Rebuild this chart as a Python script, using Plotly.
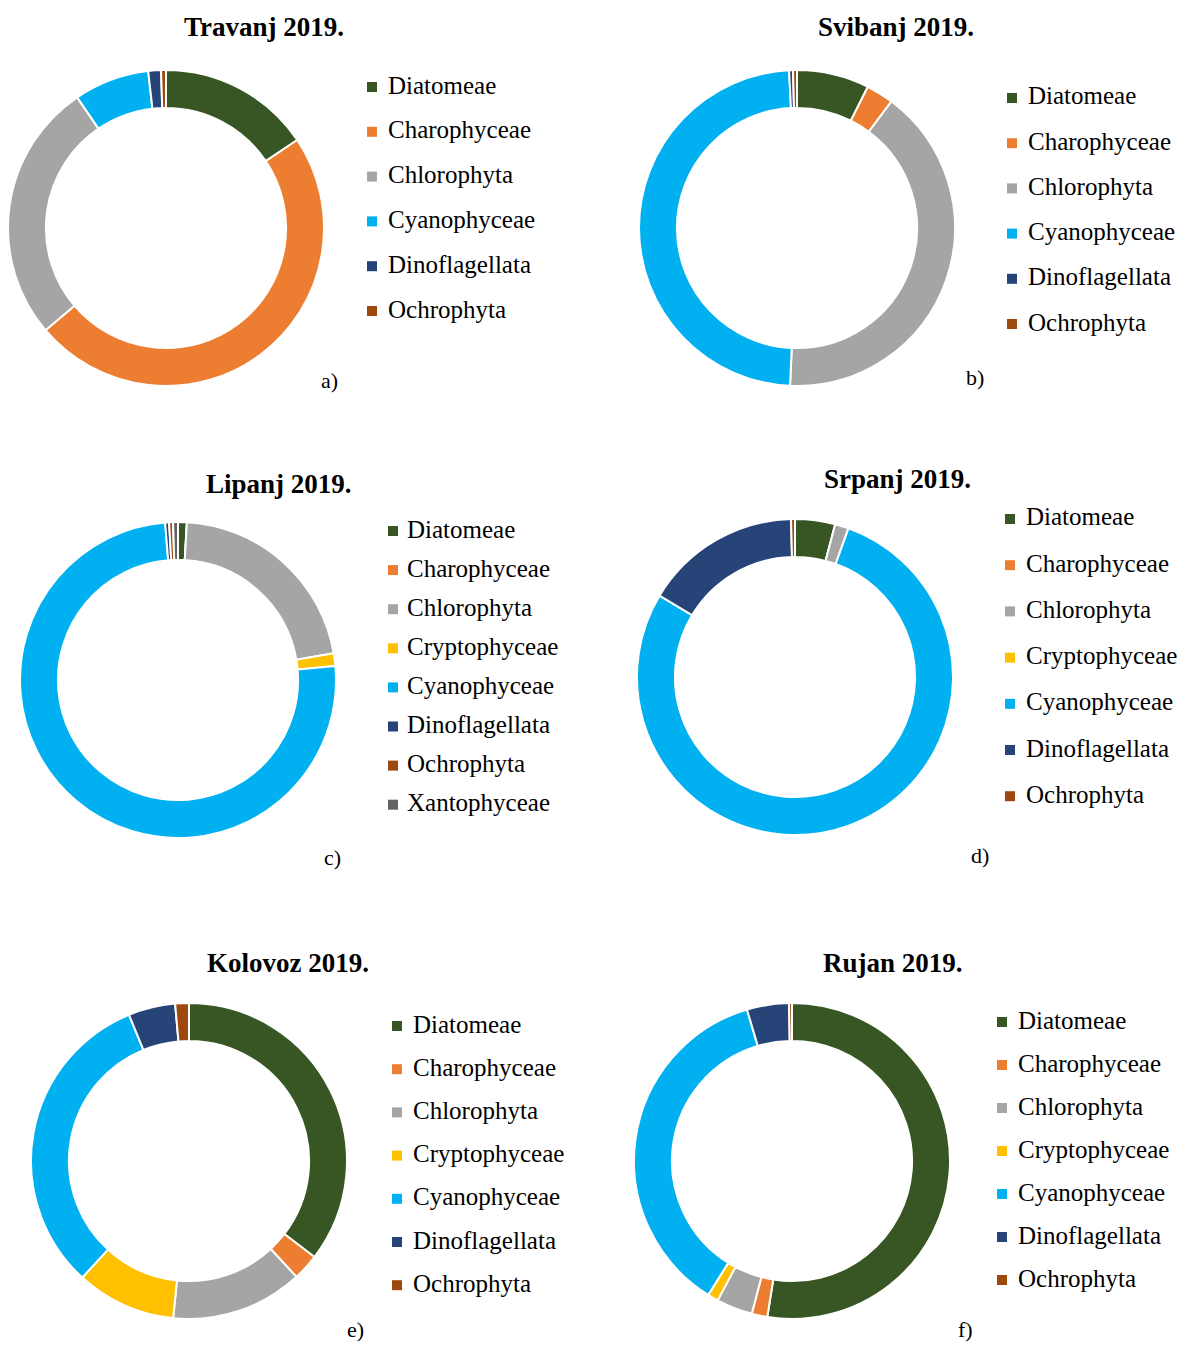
import plotly.graph_objects as go

# ---------------- data ----------------
titles = ["Travanj 2019.", "Svibanj 2019.", "Lipanj 2019.", "Srpanj 2019.", "Kolovoz 2019.", "Rujan 2019."]
panel_tags = ["a)", "b)", "c)", "d)", "e)", "f)"]

cats_a = ["Diatomeae", "Charophyceae", "Chlorophyta", "Cyanophyceae", "Dinoflagellata", "Ochrophyta"]
vals_a = [15.6, 48.2, 26.7, 7.7, 1.3, 0.5]

cats_b = ["Diatomeae", "Charophyceae", "Chlorophyta", "Cyanophyceae", "Dinoflagellata", "Ochrophyta"]
vals_b = [7.4, 2.8, 40.5, 48.5, 0.4, 0.4]

cats_c = ["Diatomeae", "Charophyceae", "Chlorophyta", "Cryptophyceae", "Cyanophyceae",
          "Dinoflagellata", "Ochrophyta", "Xantophyceae"]
vals_c = [0.9, 0.0, 21.4, 1.3, 75.1, 0.4, 0.4, 0.5]

cats_d = ["Diatomeae", "Charophyceae", "Chlorophyta", "Cryptophyceae", "Cyanophyceae",
          "Dinoflagellata", "Ochrophyta"]
vals_d = [4.1, 0.0, 1.4, 0.0, 78.1, 16.0, 0.4]

cats_e = ["Diatomeae", "Charophyceae", "Chlorophyta", "Cryptophyceae", "Cyanophyceae",
          "Dinoflagellata", "Ochrophyta"]
vals_e = [35.4, 2.7, 13.5, 10.2, 32.0, 4.8, 1.4]

cats_f = ["Diatomeae", "Charophyceae", "Chlorophyta", "Cryptophyceae", "Cyanophyceae",
          "Dinoflagellata", "Ochrophyta"]
vals_f = [52.5, 1.6, 3.7, 1.1, 36.5, 4.3, 0.3]

colors = {
    "Diatomeae": "#375623",
    "Charophyceae": "#ED7D31",
    "Chlorophyta": "#A5A5A5",
    "Cryptophyceae": "#FFC000",
    "Cyanophyceae": "#00B0F0",
    "Dinoflagellata": "#264478",
    "Ochrophyta": "#9E480E",
    "Xantophyceae": "#636363",
}

# ---------------- layout (pixels in the 1198x1350 window) ----------------
WIN_W, WIN_H = 1198, 1350
OFF = 8  # default page body margin
W, H = WIN_W - 2 * OFF, WIN_H - 2 * OFF
panels = [
    dict(cx=166, cy=228, r=158, tx=264, ty=27, mx=372, lx=386, ly=85, ls=44.8, gx=329, gy=380),
    dict(cx=797, cy=228, r=158, tx=896, ty=27, mx=1012, lx=1026, ly=96, ls=45.2, gx=975, gy=377),
    dict(cx=178, cy=680, r=158, tx=279, ty=484, mx=393, lx=405, ly=529, ls=39.1, gx=333, gy=858),
    dict(cx=795, cy=677, r=158, tx=897, ty=479, mx=1010, lx=1024, ly=517, ls=46.2, gx=980, gy=855),
    dict(cx=189, cy=1161, r=158, tx=288, ty=963, mx=397, lx=411, ly=1024, ls=43.2, gx=355, gy=1329),
    dict(cx=792, cy=1161, r=158, tx=893, ty=963, mx=1002, lx=1016, ly=1020, ls=43.0, gx=965, gy=1329),
]
all_cats = [cats_a, cats_b, cats_c, cats_d, cats_e, cats_f]
all_vals = [vals_a, vals_b, vals_c, vals_d, vals_e, vals_f]


def px(x):
    return (x - OFF) / W


def py(y):
    return 1 - (y - OFF) / H


SERIF = "Liberation Serif, Times New Roman, serif"

fig = go.Figure()
annotations = []
shapes = []
for i, p in enumerate(panels):
    cats, vals = all_cats[i], all_vals[i]
    fig.add_trace(go.Pie(
        labels=cats, values=vals, sort=False, direction="clockwise", rotation=0,
        hole=0.76, textinfo="none", hoverinfo="label+value",
        marker=dict(colors=[colors[c] for c in cats], line=dict(color="white", width=2)),
        domain=dict(x=[px(p["cx"] - p["r"]), px(p["cx"] + p["r"])],
                    y=[py(p["cy"] + p["r"]), py(p["cy"] - p["r"])]),
        showlegend=False,
    ))
    annotations.append(dict(x=px(p["tx"]), y=py(p["ty"]), xref="paper", yref="paper",
                            text="<b>" + titles[i] + "</b>", showarrow=False,
                            xanchor="center", yanchor="middle",
                            font=dict(family=SERIF, size=27, color="#000")))
    annotations.append(dict(x=px(p["gx"]), y=py(p["gy"]), xref="paper", yref="paper",
                            text=panel_tags[i], showarrow=False,
                            xanchor="center", yanchor="middle",
                            font=dict(family=SERIF, size=22, color="#000")))
    for k, c in enumerate(cats):
        yy = p["ly"] + k * p["ls"]
        annotations.append(dict(x=px(p["lx"]), y=py(yy), xref="paper", yref="paper",
                                text=c, showarrow=False, xanchor="left", yanchor="middle",
                                font=dict(family=SERIF, size=25, color="#000")))
        shapes.append(dict(type="rect", xref="paper", yref="paper",
                           x0=px(p["mx"] - 5), x1=px(p["mx"] + 5),
                           y0=py(yy + 7), y1=py(yy - 3),
                           fillcolor=colors[c], line=dict(width=0)))

fig.update_layout(
    width=W, height=H, margin=dict(l=0, r=0, t=0, b=0),
    paper_bgcolor="white", plot_bgcolor="white",
    annotations=annotations, shapes=shapes, showlegend=False,
)
fig.write_html("out.html")
